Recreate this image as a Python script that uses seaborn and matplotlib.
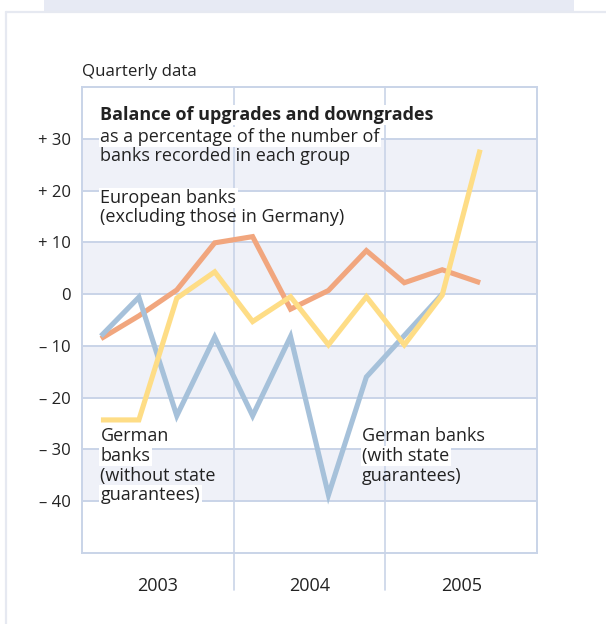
import numpy as np
import pandas as pd
import matplotlib
matplotlib.use("Agg")
import matplotlib.pyplot as plt
from matplotlib.patches import Rectangle
from matplotlib.lines import Line2D
import seaborn as sns

# Quarterly balance of rating upgrades and downgrades (% of banks in each group)
quarters = ["2003Q1", "2003Q2", "2003Q3", "2003Q4",
            "2004Q1", "2004Q2", "2004Q3", "2004Q4",
            "2005Q1", "2005Q2", "2005Q3"]
european = [-8.6, -4.2, 0.8, 9.9, 11.1, -2.9, 0.7, 8.4, 2.2, 4.7, 2.2]
german_state = [-8.1, -0.6, -23.5, -8.3, -23.5, -8.2, -38.8, -16.0, -8.0, 0.0, None]
german_private = [-24.3, -24.3, -0.8, 4.3, -5.3, -0.5, -9.8, -0.5, -9.8, -0.2, 27.9]

years = ["2003", "2004", "2005"]
ytick_values = [30, 20, 10, 0, -10, -20, -30, -40]
ytick_labels = ["+ 30", "+ 20", "+ 10", "0", "\u2013 10", "\u2013 20", "\u2013 30", "\u2013 40"]

series_names = ["European banks", "German banks (with state guarantees)",
                "German banks (without state guarantees)"]
palette = {series_names[0]: "#f1a67e",
           series_names[1]: "#a6c1da",
           series_names[2]: "#fedd86"}


def quarter_pos(q):
    return int(q[:4]) + (int(q[-1]) - 0.5) / 4.0


rows = []
for name, vals in zip(series_names, [european, german_state, german_private]):
    for q, v in zip(quarters, vals):
        if v is not None:
            rows.append({"series": name, "pos": quarter_pos(q), "value": v})
df = pd.DataFrame(rows)

sns.set_theme(style="white")
plt.rcParams["font.family"] = ["Open Sans", "DejaVu Sans"]

W, H = 606, 624
fig = plt.figure(figsize=(W / 100, H / 100), dpi=100)
fig.patch.set_facecolor("white")

grid_c = "#c9d4e8"
band_c = "#eff1f8"
text_c = "#222222"
fs = 13.0

# page furniture: header strip and light frame lines
fig.add_artist(Rectangle((44 / W, 1 - 11 / H), (574 - 44) / W, 11 / H,
                         transform=fig.transFigure, facecolor="#e7eaf4",
                         edgecolor="none"))
fig.add_artist(Line2D([6 / W, 6 / W], [0, 1 - 12 / H], transform=fig.transFigure,
                      color="#e6e9f1", lw=1.6))
fig.add_artist(Line2D([6 / W, 1], [1 - 12 / H, 1 - 12 / H], transform=fig.transFigure,
                      color="#e6e9f1", lw=1.6))

left, right, top, bottom = 82, 537, 87, 553
ax = fig.add_axes([left / W, 1 - bottom / H, (right - left) / W, (bottom - top) / H])
ax.set_xlim(2003, 2006)
ax.set_ylim(-50, 40)

for lo in (20, 0, -20, -40):
    ax.axhspan(lo, lo + 10, color=band_c, lw=0, zorder=0)
for yv in ytick_values:
    ax.axhline(yv, color=grid_c, lw=1.4, zorder=0.5)

xt = ax.get_xaxis_transform()
for yr in (2004, 2005):
    ax.plot([yr, yr], [-37 / (bottom - top), 1], transform=xt, color=grid_c,
            lw=1.2, clip_on=False, zorder=0.5)

sns.lineplot(data=df, x="pos", y="value", hue="series", hue_order=series_names,
             palette=palette, linewidth=3.7, legend=False, sort=False,
             estimator=None, ax=ax, zorder=3)
# draw order: European, then state-guaranteed, then the others on top
lines = ax.get_lines()[-3:]
for zo, ln in zip((3, 4, 5), lines):
    ln.set_zorder(zo)
    ln.set_solid_capstyle("butt")
    ln.set_solid_joinstyle("miter")

for sp in ax.spines.values():
    sp.set_color(grid_c)
    sp.set_linewidth(1.4)

ax.set_yticks(ytick_values)
ax.set_yticklabels(ytick_labels)
ax.tick_params(axis="y", length=0, pad=8, labelsize=12, labelcolor=text_c)

qt = [y + k / 4 for y in (2003, 2004, 2005) for k in (1, 2, 3)]
ax.set_xticks(qt)
ax.set_xticklabels([])
ax.tick_params(axis="x", direction="out", length=11, width=1.2, color=grid_c)
ax.set_xlabel("")
ax.set_ylabel("")

for i, yl in enumerate(years):
    ax.text(2003.5 + i, -38 / (bottom - top), yl, transform=xt, ha="center",
            va="baseline", fontsize=13, color=text_c)

fig.text(82 / W, 1 - 76 / H, "Quarterly data", ha="left", va="baseline",
         fontsize=12.2, color=text_c)


def label(xp, yp, s, box=False, weight="normal"):
    kw = dict(ha="left", va="baseline", fontsize=fs, color=text_c,
              fontweight=weight, transform=fig.transFigure, zorder=6)
    if box:
        kw["bbox"] = dict(facecolor="white", edgecolor="none", pad=1.0)
    ax.text(xp / W, 1 - yp / H, s, **kw)


label(100.5, 120, "Balance of upgrades and downgrades", box=True, weight="bold")
label(100.5, 142, "as a percentage of the number of", box=True)
label(100.5, 161, "banks recorded in each group")
label(100.5, 203, "European banks", box=True)
label(100.5, 222, "(excluding those in Germany)")
label(100.5, 441, "German")
label(100.5, 461, "banks", box=True)
label(100.5, 481, "(without state")
label(100.5, 500, "guarantees)", box=True)
label(362, 441, "German banks")
label(362, 461, "(with state", box=True)
label(362, 481, "guarantees)")

fig.savefig("out.png", dpi=100, facecolor="white")
